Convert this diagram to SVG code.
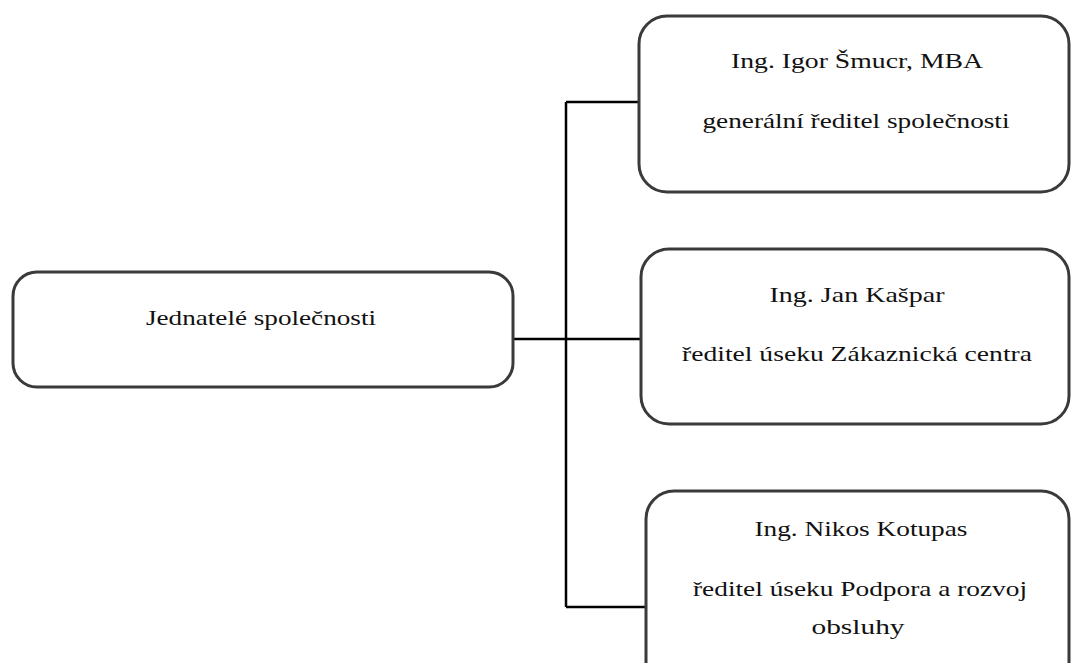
<svg xmlns="http://www.w3.org/2000/svg" width="1071" height="663" viewBox="0 0 1071 663">
<style>
.box{fill:#fff;stroke:#3a3a3a;stroke-width:3}
.t{font-family:"Liberation Serif","Times New Roman",serif;font-size:21px;fill:#111;text-anchor:middle}
.c{fill:none;stroke:#000;stroke-width:2.5}
</style>
<rect width="1071" height="663" fill="#fff"/>
<g id="connectors">
<path class="c" d="M512 339H566M566 102V607M566 102H640M566 339H642M566 607H647"/>
</g>
<g id="n0">
<rect class="box" x="13" y="272" width="500" height="115" rx="24"/>
<text class="t" x="261" y="325" textLength="230" lengthAdjust="spacingAndGlyphs">Jednatelé společnosti</text>
</g>
<g id="n1">
<rect class="box" x="639" y="16" width="430" height="176" rx="28"/>
<text class="t" x="857" y="68" textLength="252" lengthAdjust="spacingAndGlyphs">Ing. Igor Šmucr, MBA</text>
<text class="t" x="856" y="128" textLength="307" lengthAdjust="spacingAndGlyphs">generální ředitel společnosti</text>
</g>
<g id="n2">
<rect class="box" x="641" y="249" width="428" height="175" rx="28"/>
<text class="t" x="857" y="302" textLength="175" lengthAdjust="spacingAndGlyphs">Ing. Jan Kašpar</text>
<text class="t" x="857" y="361" textLength="350" lengthAdjust="spacingAndGlyphs">ředitel úseku Zákaznická centra</text>
</g>
<g id="n3">
<rect class="box" x="646" y="491" width="423" height="200" rx="28"/>
<text class="t" x="861" y="536" textLength="213" lengthAdjust="spacingAndGlyphs">Ing. Nikos Kotupas</text>
<text class="t" x="860" y="596" textLength="334" lengthAdjust="spacingAndGlyphs">ředitel úseku Podpora a rozvoj</text>
<text class="t" x="858" y="634" textLength="93" lengthAdjust="spacingAndGlyphs">obsluhy</text>
</g>
</svg>
